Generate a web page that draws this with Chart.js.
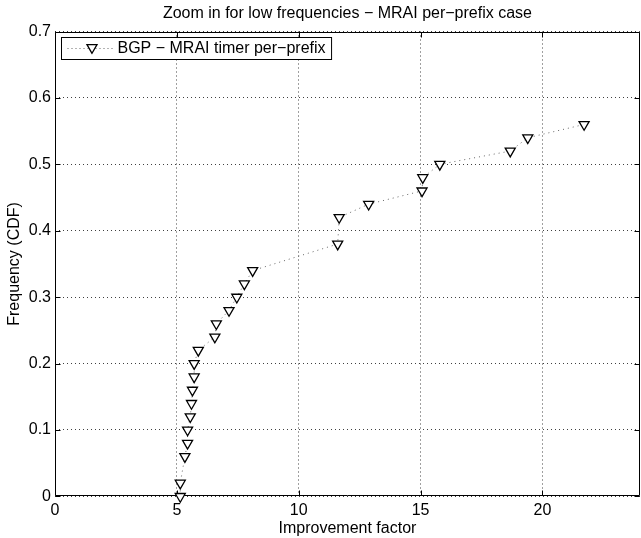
<!DOCTYPE html>
<html>
<head>
<meta charset="utf-8">
<script src="https://cdn.jsdelivr.net/npm/chart.js@4/dist/chart.umd.min.js"></script>
<style>
  html, body { margin: 0; padding: 0; background: #fff; overflow: hidden; width: 641px; height: 538px; }
  canvas { display: block; }
</style>
</head>
<body>
<canvas id="cdf" width="647" height="538"></canvas>
<script>
// Empirical CDF of the improvement factor (low-frequency part)
const improvementFactor = [5.14, 5.14, 5.33, 5.44, 5.44, 5.55, 5.60, 5.64, 5.71, 5.71, 5.88, 6.56, 6.62,
                           7.14, 7.46, 7.77, 8.11, 11.60, 11.66, 12.87, 15.06, 15.09, 15.79, 18.68, 19.40, 21.71];
const frequencyCdf = [0.00, 0.02, 0.06, 0.08, 0.10, 0.12, 0.14, 0.16, 0.18, 0.20, 0.22, 0.24, 0.26,
                      0.28, 0.30, 0.32, 0.34, 0.38, 0.42, 0.44, 0.46, 0.48, 0.50, 0.52, 0.54, 0.56];

const xTicks = [0, 5, 10, 15, 20];
const yTicks = [0, 0.1, 0.2, 0.3, 0.4, 0.5, 0.6, 0.7];
const yTickLabels = ['0', '0.1', '0.2', '0.3', '0.4', '0.5', '0.6', '0.7'];

const seriesName = 'BGP \u2212 MRAI timer per\u2212prefix';
const chartTitle = 'Zoom in for low frequencies \u2212 MRAI per\u2212prefix case';

const FONT = 'Liberation Sans, Arial, Helvetica, sans-serif';
const FONT_SIZE = 16;

const points = improvementFactor.map((x, i) => ({ x: x, y: frequencyCdf[i] }));

const markerStyle = {
  pointStyle: 'triangle',
  rotation: 180,
  radius: 5.8,
  borderWidth: 1.3,
  borderColor: '#000',
  backgroundColor: '#fff'
};

// Axes box with inward tick marks on every side
const axesFrame = {
  id: 'axesFrame',
  beforeDatasetsDraw(chart) {
    const { ctx, chartArea: a, scales } = chart;
    const L = Math.round(a.left) + 0.5, R = Math.round(a.right) - 0.5;
    const T = Math.round(a.top) + 0.5, B = Math.round(a.bottom) - 0.5;
    const len = 5;
    ctx.save();
    ctx.strokeStyle = '#000';
    ctx.lineWidth = 1;
    ctx.beginPath();
    ctx.rect(L, T, R - L, B - T);
    scales.x.ticks.forEach(t => {
      const px = Math.round(scales.x.getPixelForValue(t.value)) + 0.5;
      ctx.moveTo(px, B); ctx.lineTo(px, B - len);
      ctx.moveTo(px, T); ctx.lineTo(px, T + len);
    });
    scales.y.ticks.forEach(t => {
      const py = Math.round(scales.y.getPixelForValue(t.value)) + 0.5;
      ctx.moveTo(L, py); ctx.lineTo(L + len, py);
      ctx.moveTo(R, py); ctx.lineTo(R - len, py);
    });
    ctx.stroke();
    ctx.restore();
  }
};

// Boxed legend in the upper-left corner of the axes
const boxedLegend = {
  id: 'boxedLegend',
  afterDraw(chart) {
    const { ctx, chartArea: a } = chart;
    const x0 = Math.round(a.left) + 6.5, y0 = Math.round(a.top) + 5.5;
    const h = 22;
    ctx.save();
    ctx.font = FONT_SIZE + 'px ' + FONT;
    const tw = ctx.measureText(seriesName).width;
    const lineStart = x0 + 6, lineEnd = x0 + 53, textX = x0 + 56;
    const w = textX - x0 + tw + 6;
    ctx.fillStyle = '#fff';
    ctx.fillRect(x0, y0, w, h);
    ctx.strokeStyle = '#000';
    ctx.lineWidth = 1;
    ctx.strokeRect(x0, y0, w, h);
    const cy = y0 + h / 2;
    ctx.strokeStyle = '#666';
    ctx.setLineDash([1, 3]);
    ctx.beginPath();
    ctx.moveTo(lineStart, cy); ctx.lineTo(lineEnd, cy);
    ctx.stroke();
    ctx.setLineDash([]);
    ctx.strokeStyle = markerStyle.borderColor;
    ctx.fillStyle = markerStyle.backgroundColor;
    ctx.lineWidth = markerStyle.borderWidth;
    Chart.helpers.drawPoint(ctx, markerStyle, (lineStart + lineEnd) / 2 + 1, cy - 1);
    ctx.fillStyle = '#000';
    ctx.textBaseline = 'middle';
    ctx.textAlign = 'left';
    ctx.fillText(seriesName, textX, cy + 0.5);
    ctx.restore();
  }
};

new Chart(document.getElementById('cdf'), {
  type: 'scatter',
  data: {
    datasets: [{
      label: seriesName,
      data: points,
      showLine: true,
      borderColor: '#666',
      borderWidth: 1,
      borderDash: [1, 4],
      pointStyle: markerStyle.pointStyle,
      rotation: markerStyle.rotation,
      pointRadius: markerStyle.radius,
      pointBorderWidth: markerStyle.borderWidth,
      pointBorderColor: markerStyle.borderColor,
      pointBackgroundColor: markerStyle.backgroundColor,
      clip: false
    }]
  },
  options: {
    responsive: false,
    animation: false,
    devicePixelRatio: 1,
    layout: { padding: 0 },
    plugins: {
      legend: { display: false },
      tooltip: { enabled: false },
      title: {
        display: true,
        text: chartTitle,
        fullSize: false,
        color: '#000',
        font: { family: FONT, size: FONT_SIZE, weight: 'normal', lineHeight: 1.2 },
        padding: { top: 4.4, bottom: 7.9 }
      }
    },
    scales: {
      x: {
        type: 'linear',
        min: 0,
        max: 24,
        afterFit(s) { s.height = 41.6; },
        afterBuildTicks(s) { s.ticks = xTicks.map(v => ({ value: v })); },
        grid: { color: 'rgba(0,0,0,0.75)', lineWidth: 1, drawTicks: false },
        border: { display: false, dash: [1, 3] },
        ticks: { color: '#000', padding: 5, maxRotation: 0, font: { family: FONT, size: FONT_SIZE } },
        title: {
          display: true,
          text: 'Improvement factor',
          color: '#000',
          font: { family: FONT, size: FONT_SIZE },
          padding: { top: 0, bottom: 0 }
        }
      },
      y: {
        type: 'linear',
        min: 0,
        max: 0.7,
        afterFit(s) { s.width = 55; },
        afterBuildTicks(s) { s.ticks = yTicks.map(v => ({ value: v })); },
        grid: { color: 'rgba(0,0,0,0.75)', lineWidth: 1, drawTicks: false },
        border: { display: false, dash: [1, 3] },
        ticks: {
          color: '#000',
          padding: 4,
          font: { family: FONT, size: FONT_SIZE },
          callback: (v, i) => yTickLabels[i]
        },
        title: {
          display: true,
          text: 'Frequency (CDF)',
          color: '#000',
          font: { family: FONT, size: FONT_SIZE },
          padding: { top: 5.2, bottom: 0 }
        }
      }
    }
  },
  plugins: [axesFrame, boxedLegend]
});
</script>
</body>
</html>
